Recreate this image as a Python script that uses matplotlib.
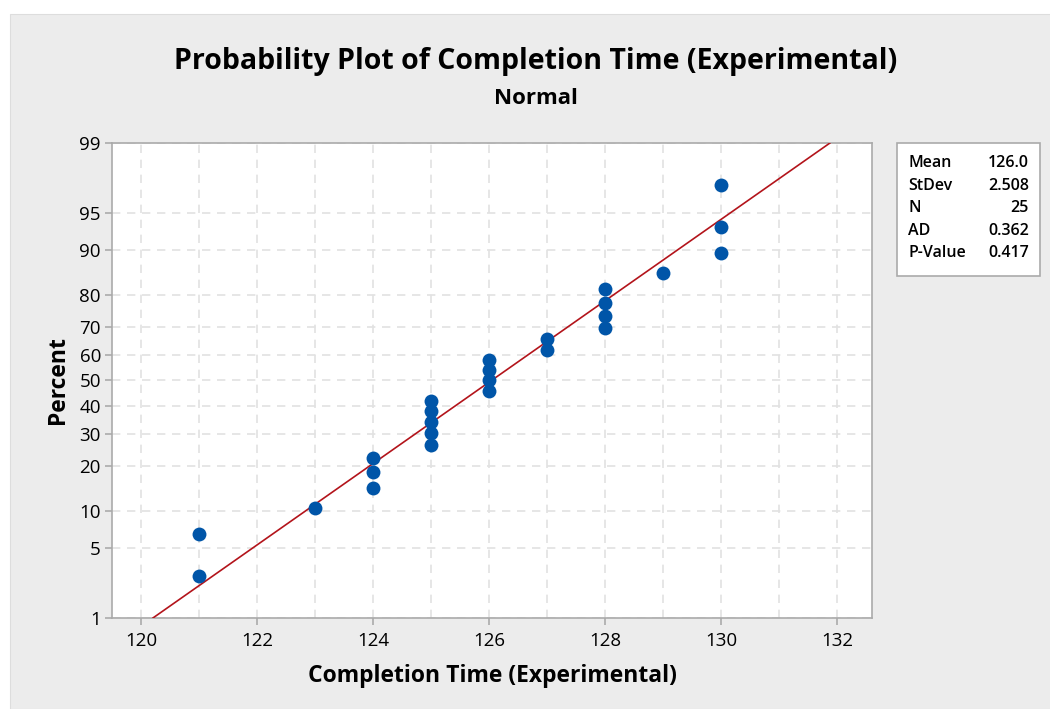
from statistics import NormalDist

import matplotlib
matplotlib.use("Agg")
import matplotlib.pyplot as plt
import numpy as np
from matplotlib.patches import Rectangle

plt.rcParams['font.family'] = ['Open Sans', 'DejaVu Sans']

# completion times (sorted) and their median-rank percents
times = [121, 121, 123, 124, 124, 124, 125, 125, 125, 125, 125,
         126, 126, 126, 126, 127, 127, 128, 128, 128, 128, 129,
         130, 130, 130]
percents = [2.76, 6.69, 10.63, 14.57, 18.50, 22.44, 26.38, 30.31, 34.25,
            38.19, 42.13, 46.06, 50.00, 53.94, 57.87, 61.81, 65.75, 69.69,
            73.62, 77.56, 81.50, 85.43, 89.37, 93.31, 97.24]

mean, stdev = 126.04, 2.508
stats_names = ['Mean', 'StDev', 'N', 'AD', 'P-Value']
stats_values = ['126.0', '2.508', '25', '0.362', '0.417']

y_ticks = [1, 5, 10, 20, 30, 40, 50, 60, 70, 80, 90, 95, 99]
x_ticks = [120, 122, 124, 126, 128, 130, 132]

std = NormalDist()
_ppf = np.vectorize(std.inv_cdf, otypes=[float])
_cdf = np.vectorize(std.cdf, otypes=[float])


def fwd(p):
    p = np.clip(np.asarray(p, float), 1e-6, 100 - 1e-6)
    return _ppf(p / 100.0)


def inv(z):
    return _cdf(np.asarray(z, float)) * 100.0


fig = plt.figure(figsize=(10.5, 7.09), dpi=100, facecolor='white')
fig.patches.append(Rectangle((10 / 1050, 0), 1, 1 - 14 / 709,
                             transform=fig.transFigure, facecolor='#ececec',
                             edgecolor='#dddddd', lw=0.8, zorder=-10))

ax = fig.add_axes([0.1067, 0.1284, 0.7238, 0.6699])
ax.set_facecolor('white')
ax.set_yscale('function', functions=(fwd, inv))

# fitted normal line
fit_pct = np.linspace(1, 99, 200)
fit_x = [NormalDist(mean, stdev).inv_cdf(p / 100) for p in fit_pct]
ax.plot(fit_x, fit_pct, color='#b3141b', lw=1.2, zorder=3)

ax.scatter(times, percents, s=100, color='#0055a8', zorder=4, linewidths=0)

ax.set_xlim(119.5, 132.6)
ax.set_ylim(1, 99)
ax.set_xticks(x_ticks)
ax.set_xticks(np.arange(120, 133, 1), minor=True)
ax.set_yticks(y_ticks)
ax.set_yticklabels([str(t) for t in y_ticks])
ax.yaxis.set_minor_locator(matplotlib.ticker.NullLocator())

ax.grid(True, which='both', axis='x', color='#e2e2e2', ls=(0, (5, 4)), lw=1.2)
ax.grid(True, which='major', axis='y', color='#e2e2e2', ls=(0, (5, 4)), lw=1.2)
ax.set_axisbelow(True)

for s in ax.spines.values():
    s.set_color('#aaaaaa')
    s.set_linewidth(1.2)
ax.tick_params(axis='both', which='major', direction='out', length=5,
               color='#aaaaaa', width=1.2, labelsize=13.5, pad=3)
ax.tick_params(axis='x', which='major', pad=5)
ax.tick_params(axis='x', which='minor', length=0)

ax.set_xlabel('Completion Time (Experimental)', fontsize=16.5, fontweight='bold',
              labelpad=10)
ax.set_ylabel('Percent', fontsize=16.5, fontweight='bold', labelpad=7)

fig.text(0.51, 0.913, 'Probability Plot of Completion Time (Experimental)',
         ha='center', va='center', fontsize=20.5, fontweight='bold')
fig.text(0.51, 0.861, 'Normal', ha='center', va='center', fontsize=16,
         fontweight='bold')

# statistics box
fig.patches.append(Rectangle((897 / 1050, 1 - 276 / 709), 143 / 1050, 133 / 709,
                             transform=fig.transFigure, facecolor='white',
                             edgecolor='#aaaaaa', lw=1.2))
for i, (name, val) in enumerate(zip(stats_names, stats_values)):
    y = 1 - (163 + i * 22.5) / 709
    fig.text(908 / 1050, y, name, ha='left', va='center', fontsize=11.5,
             fontweight='semibold')
    fig.text(1029 / 1050, y, val, ha='right', va='center', fontsize=11.5,
             fontweight='semibold')

fig.savefig('out.png', dpi=100, facecolor=fig.get_facecolor())
